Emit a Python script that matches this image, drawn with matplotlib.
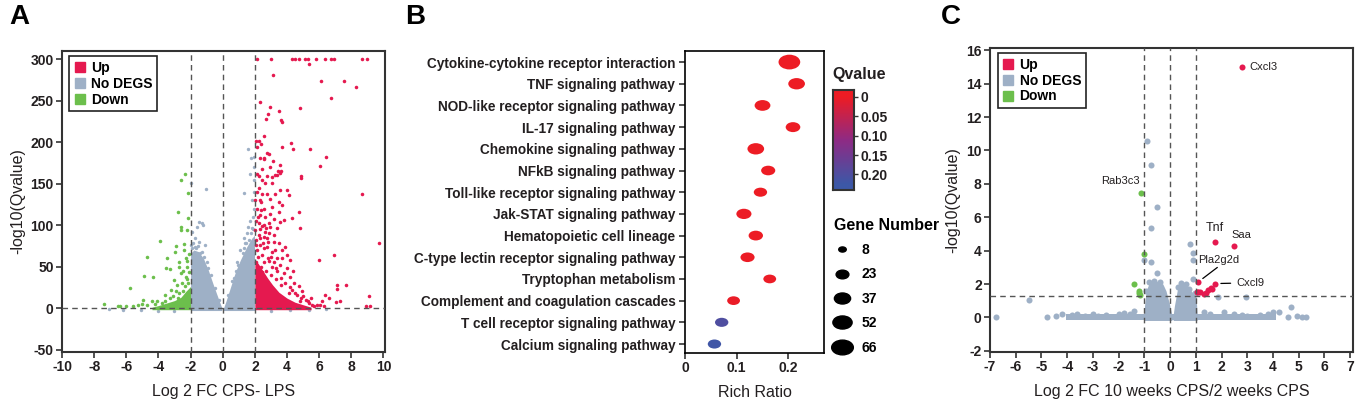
import matplotlib
matplotlib.use("Agg")
import matplotlib.pyplot as plt
import numpy as np
from matplotlib.path import Path
from matplotlib.colors import LinearSegmentedColormap, Normalize
from matplotlib.lines import Line2D
from matplotlib.font_manager import FontProperties

# ---------------- data ----------------
# Panel A: volcano CPS vs LPS  (x = log2 FC, y = -log10 Qvalue)
a_up = [(2.13, 300), (3.0, 300), (4.31, 300), (4.48, 300), (4.72, 300), (5.14, 300), (5.31, 300),
        (5.82, 300), (6.38, 300), (6.74, 300), (6.9, 300), (8.67, 300), (8.98, 300),
        (5.35, 294), (3.1, 281), (6.14, 274), (7.55, 274), (8.3, 267), (6.71, 253), (2.34, 249),
        (2.92, 242), (3.48, 238), (4.83, 241), (2.8, 234), (2.67, 228), (3.63, 227), (3.72, 224),
        (2.55, 208), (2.07, 202), (2.23, 201), (2.38, 198), (2.13, 194), (3.69, 194), (4.23, 199),
        (4.35, 192), (5.45, 192), (2.34, 181), (2.55, 181), (2.59, 180), (2.76, 187), (2.86, 186),
        (3.13, 177), (3.58, 173), (6.43, 182), (6.07, 171), (2.45, 168), (2.96, 170), (3.42, 165),
        (3.65, 165), (3.27, 161), (2.13, 162), (2.23, 159), (2.76, 159), (3.07, 158), (4.89, 159),
        (4.89, 157), (2.45, 155), (2.65, 151), (3.07, 151), (3.38, 160), (3.58, 163),
        (2.23, 145), (2.76, 138), (2.45, 138), (3.27, 138), (3.58, 142), (4.0, 142), (4.1, 136),
        (8.67, 137), (2.03, 130), (2.38, 128), (2.92, 131), (3.48, 128), (3.69, 124), (3.07, 122),
        (2.13, 120), (2.55, 119), (3.48, 116), (2.96, 114), (4.72, 116), (4.31, 108), (2.34, 112),
        (2.65, 110), (3.17, 107), (3.58, 104), (3.79, 106), (2.86, 103), (2.23, 102), (2.45, 99),
        (2.96, 98), (3.38, 96), (4.83, 96), (2.03, 94), (2.65, 92), (2.23, 88), (2.55, 86),
        (3.17, 80), (3.48, 78), (2.34, 76), (3.9, 74), (2.76, 74), (9.7, 78), (2.13, 70), (3.07, 68),
        (3.69, 70), (4.0, 64), (2.45, 64), (3.38, 60), (4.16, 58), (6.9, 64), (5.97, 58),
        (2.9, 57), (3.2, 55), (3.55, 52), (2.6, 56), (4.0, 48), (4.16, 38), (4.41, 30), (4.72, 26),
        (4.93, 20), (3.8, 42), (3.6, 36), (4.3, 22), (4.6, 16), (7.11, 28), (7.11, 23), (7.65, 28),
        (9.08, 15), (8.94, 2), (9.19, 2), (7.33, 8), (7.08, 7), (6.59, 12), (6.38, 16), (6.18, 8),
        (6.07, 4), (5.35, 6), (5.56, 4), (5.87, 4), (5.2, 10), (5.5, 12), (5.0, 14), (4.8, 8),
        (2.1, 55), (2.4, 50), (2.7, 45), (3.0, 40), (3.3, 35), (2.2, 62), (2.8, 60), (3.4, 45),
        (3.9, 30), (4.2, 25), (4.5, 18), (4.9, 12), (5.3, 8), (2.5, 78), (2.9, 90), (3.2, 88),
        (2.1, 105), (2.6, 100), (3.7, 60), (4.4, 45), (2.05, 82), (2.3, 95), (2.75, 85),
        (3.05, 50), (2.45, 44), (3.6, 28), (4.1, 18), (5.7, 2), (6.3, 3), (2.15, 140), (2.3, 130),
        (2.2, 110), (2.4, 118), (2.7, 96), (2.85, 80), (3.25, 70), (2.6, 72), (2.35, 84),
        (3.0, 62), (3.3, 48), (2.1, 76)]

a_down = [(-2.37, 162), (-2.6, 155), (-2.16, 139), (-2.78, 116), (-2.16, 108), (-2.58, 98),
          (-2.58, 94), (-2.22, 94), (-3.88, 81), (-4.71, 62), (-4.92, 39), (-4.34, 38), (-5.79, 24),
          (-7.37, 5), (-3.47, 60), (-3.51, 48), (-3.26, 47), (-2.89, 75), (-2.95, 67), (-2.39, 77),
          (-2.43, 70), (-2.74, 56), (-2.74, 50), (-3.05, 34), (-2.84, 28), (-2.53, 30), (-3.57, 16),
          (-4.96, 10), (-4.4, 8), (-4.09, 9), (-6.37, 3), (-6.54, 2), (-2.3, 60), (-2.2, 50),
          (-2.6, 42), (-2.3, 38), (-2.45, 45), (-2.9, 20), (-3.2, 22), (-2.7, 18), (-3.3, 12),
          (-3.8, 6), (-5.3, 4), (-5.6, 3), (-6.0, 2), (-5.0, 5), (-4.7, 4), (-2.2, 35), (-2.1, 65),
          (-2.25, 57), (-2.1, 44), (-2.35, 26), (-2.15, 30), (-2.5, 20), (-3.1, 14), (-3.6, 9),
          (-4.2, 5), (-2.8, 12)]

a_nodeg = [(1.55, 192), (1.78, 181), (1.72, 162), (-1.97, 151), (-1.02, 143), (1.3, 139),
           (1.95, 182), (-1.29, 102), (-1.6, 98), (-1.9, 92), (-1.45, 104), (-1.2, 100), (-1.75, 85),
           (-1.5, 80), (-1.95, 76), (-1.1, 76), (1.51, 90), (1.82, 96), (1.88, 110), (1.7, 105),
           (1.95, 120), (1.85, 130), (1.6, 98), (1.3, 84), (1.1, 70), (0.9, 55), (1.96, 140),
           (1.93, 155), (1.95, 170), (-7.1, -1), (-6.2, -2), (-5.1, -2), (-4.0, -3), (-3.0, -3),
           (3.0, -3), (4.2, -2), (5.4, -2), (6.4, -1), (-1.7, 74), (-1.3, 68), (0.7, 36), (1.4, 78),
           (-1.9, 72), (-1.65, 73), (-1.4, 66), (-1.0, 55), (-0.75, 40), (-0.45, 24), (-0.2, 10),
           (-1.85, 78), (-1.55, 75), (0.3, 16), (0.6, 33), (0.95, 52), (1.25, 66), (1.45, 78),
           (1.65, 82), (1.75, 90), (1.9, 95), (1.35, 73), (-1.15, 62), (-0.9, 48), (0.8, 45)]

# dense cores (upper edge of the cloud)
a_gray_left_x = [-2.0, -1.8, -1.5, -1.2, -0.9, -0.6, -0.3, -0.05]
a_gray_left_top = [66, 70, 68, 60, 46, 29, 13, 0]
a_gray_right_x = [0.05, 0.2, 0.5, 0.8, 1.1, 1.5, 1.8, 1.98]
a_gray_right_top = [0, 8, 26, 44, 58, 74, 84, 88]
a_red_core_x = [2.0, 2.2, 2.5, 2.8, 3.1, 3.5, 4.0, 4.5, 5.0, 5.5]
a_red_core_top = [58, 54, 45, 36, 28, 19, 12, 7, 4, 1]
a_green_core_x = [-4.4, -4.0, -3.5, -3.0, -2.6, -2.3, -2.0]
a_green_core_top = [1, 3, 6, 9, 13, 20, 26]

# Panel B: KEGG enrichment
pathways = ['Cytokine-cytokine receptor interaction', 'TNF signaling pathway',
            'NOD-like receptor signaling pathway', 'IL-17 signaling pathway',
            'Chemokine signaling pathway', 'NFkB signaling pathway',
            'Toll-like receptor signaling pathway', 'Jak-STAT signaling pathway',
            'Hematopoietic cell lineage', 'C-type lectin receptor signaling pathway',
            'Tryptophan metabolism', 'Complement and coagulation cascades',
            'T cell receptor signaling pathway', 'Calcium signaling pathway']
rich_ratio = [0.202, 0.216, 0.150, 0.209, 0.137, 0.161, 0.146, 0.114, 0.137, 0.121, 0.164,
              0.094, 0.071, 0.057]
gene_number = [66, 39, 35, 30, 39, 28, 25, 32, 29, 28, 23, 23, 25, 25]
qvalue = [0.0, 0.0, 0.0, 0.0, 0.0, 0.0, 0.0, 0.001, 0.0, 0.001, 0.002, 0.004, 0.20, 0.22]
gene_legend = [8, 23, 37, 52, 66]
q_ticks = [0, 0.05, 0.10, 0.15, 0.20]

# Panel C: volcano 10 weeks CPS vs 2 weeks CPS
c_up = [(2.81, 14.97), (1.74, 4.53), (2.49, 4.29), (1.1, 2.13), (1.76, 2.03), (1.03, 1.5),
        (1.16, 1.5), (1.33, 1.4), (1.46, 1.63), (1.59, 1.74), (1.63, 1.68), (1.4, 1.44), (1.08, 1.55)]
c_down = [(-1.12, 7.48), (-1.03, 3.79), (-1.42, 2.0), (-1.22, 1.6), (-1.16, 1.33), (-1.2, 1.48)]
c_nodeg = [(-6.77, 0.03), (-5.49, 1.02), (-4.78, 0.02), (-4.42, 0.08), (-4.19, 0.2),
           (-1.41, 0.38), (-1.03, 3.43), (-0.74, 3.33), (-0.5, 2.69), (0.79, 4.39), (0.9, 3.83),
           (0.9, 3.43), (0.9, 2.33), (-0.91, 10.56), (-0.76, 9.12), (-0.5, 6.62), (-0.74, 5.33),
           (1.88, 1.23), (2.97, 1.23), (4.71, 0.6), (4.24, 0.3), (4.59, 0.0), (4.95, 0.1),
           (5.14, 0.02), (5.3, 0.02), (-2.0, 0.2), (-3.6, 0.2), (3.5, 0.15), (4.0, 0.3),
           (1.3, 0.35), (2.1, 0.3), (-0.61, 2.2), (-0.8, 2.1), (-0.41, 2.1), (0.43, 2.05),
           (0.62, 2.0), (0.3, 1.8), (-0.93, 1.6), (0.75, 1.7), (0.95, 1.45),
           (-3.8, 0.15), (-3.0, 0.22), (-2.5, 0.12), (-1.8, 0.28), (-1.55, 0.18), (1.55, 0.2),
           (2.5, 0.2), (3.0, 0.1), (3.8, 0.18), (-2.8, 0.1), (2.8, 0.15), (-3.3, 0.1)]
c_band_x = [-4.05, 4.12]
c_gray_left_x = [-1.02, -0.93, -0.8, -0.61, -0.41, -0.28, -0.16, -0.03, 0.07]
c_gray_left_top = [0.3, 1.6, 2.1, 2.2, 2.1, 2.0, 1.6, 0.85, 0.15]
c_gray_right_x = [0.12, 0.17, 0.3, 0.43, 0.62, 0.75, 0.9, 1.01, 1.05]
c_gray_right_top = [0.15, 0.7, 1.8, 2.05, 2.0, 1.7, 1.45, 1.25, 0.3]

c_labels = [('Cxcl3', 2.81, 14.97), ('Rab3c3', -1.12, 7.48), ('Tnf', 1.74, 4.53),
            ('Saa', 2.49, 4.29), ('Pla2g2d', 1.1, 2.13), ('Cxcl9', 1.76, 2.03)]

# ---------------- style ----------------
RED = '#e5194f'
GRAY = '#9eb0c6'
GREEN = '#6cbf4c'
TXT = '#231f20'
W, H = 1358, 404
NARROW = ['Liberation Sans Narrow', 'DejaVu Sans Condensed', 'Liberation Sans']
SANS = ['Liberation Sans', 'DejaVu Sans']
plt.rcParams['font.family'] = SANS
plt.rcParams['axes.unicode_minus'] = False

fig = plt.figure(figsize=(W / 100, H / 100), dpi=100)


def px_axes(left, top, right, bottom):
    return fig.add_axes([left / W, 1 - bottom / H, (right - left) / W, (bottom - top) / H])


def tick_style(ax, size=10):
    for lab in ax.get_xticklabels() + ax.get_yticklabels():
        lab.set_fontfamily(NARROW)
        lab.set_fontweight('bold')
        lab.set_fontsize(size)
        lab.set_color(TXT)
    ax.tick_params(direction='out', length=4, width=1.2, color='#333333', pad=2)
    for s in ax.spines.values():
        s.set_linewidth(1.5)
        s.set_color('#333333')


def unzip(pts):
    return [p[0] for p in pts], [p[1] for p in pts]


def volcano_legend(ax):
    handles = [Line2D([], [], ls='', marker='s', ms=6.5, color=c) for c in (RED, GRAY, GREEN)]
    leg = ax.legend(handles, ['Up', 'No DEGS', 'Down'], loc='upper left',
                    bbox_to_anchor=(0.022, 0.982), borderaxespad=0, fancybox=False,
                    framealpha=1, edgecolor='#222222', handlelength=0.8, handletextpad=0.4,
                    labelspacing=0.12, borderpad=0.35,
                    prop=FontProperties(family=SANS, weight='bold', size=10))
    leg.get_frame().set_linewidth(1.2)


# ---------------- panel A ----------------
axA = px_axes(62, 51, 385, 352)
axA.fill_between(a_gray_left_x, -3, a_gray_left_top, color=GRAY, lw=0, zorder=1)
axA.fill_between(a_gray_right_x, -3, a_gray_right_top, color=GRAY, lw=0, zorder=1)
x, y = unzip(a_nodeg)
axA.scatter(x, y, s=6, color=GRAY, lw=0, zorder=2)
axA.fill_between(a_red_core_x, -2, a_red_core_top, color=RED, lw=0, zorder=2)
x, y = unzip(a_up)
axA.scatter(x, y, s=6.5, color=RED, lw=0, zorder=3)
axA.fill_between(a_green_core_x, -2, a_green_core_top, color=GREEN, lw=0, zorder=2)
x, y = unzip(a_down)
axA.scatter(x, y, s=6.5, color=GREEN, lw=0, zorder=3)
for v in (-2, 0, 2):
    axA.axvline(v, color='#555555', ls=(0, (4, 3)), lw=1, zorder=4)
axA.axhline(0, color='#555555', ls=(0, (4, 3)), lw=1, zorder=4)
axA.set_xlim(-10, 10.1)
axA.set_ylim(-53, 310)
axA.set_xticks(range(-10, 11, 2))
axA.set_yticks(range(-50, 301, 50))
tick_style(axA)
axA.set_xlabel('Log 2 FC CPS- LPS', fontsize=11.5, color=TXT, labelpad=7)
axA.set_ylabel('-log10(Qvalue)', fontsize=11.5, color=TXT, labelpad=4)
volcano_legend(axA)
fig.text(9 / W, 1 - 4 / H, 'A', fontsize=20, fontweight='bold', va='top', ha='left')

# ---------------- panel B ----------------
axB = px_axes(685, 51, 824, 352.7)
circ = Path.unit_circle()
ellipse = Path(circ.vertices * np.array([1.0, 0.68]), circ.codes)
cmap = LinearSegmentedColormap.from_list('q', ['#ed1c24', '#8e2b85', '#3d58a7'])
norm = Normalize(vmin=0, vmax=0.225)
ypos = np.arange(len(pathways))[::-1]
axB.scatter(rich_ratio, ypos, s=[3.7 * g for g in gene_number], c=qvalue, cmap=cmap, norm=norm,
            marker=ellipse, lw=0, zorder=3)
axB.set_yticks(ypos)
axB.set_yticklabels(pathways)
axB.set_ylim(-0.4, 13.51)
axB.set_xlim(0, 0.269)
axB.set_xticks([0, 0.1, 0.2])
axB.set_xticklabels(['0', '0.1', '0.2'])
tick_style(axB)
for lab in axB.get_yticklabels():
    lab.set_fontfamily(SANS)
    lab.set_fontsize(9.8)
axB.tick_params(axis='y', length=4, pad=3)
for s in axB.spines.values():
    s.set_linewidth(1.2)
    s.set_color('black')
axB.set_xlabel('Rich Ratio', fontsize=11.5, color=TXT, labelpad=7)
fig.text(405 / W, 1 - 4 / H, 'B', fontsize=20, fontweight='bold', va='top', ha='left')

# colour bar for Qvalue
fig.text(832 / W, 1 - 75 / H, 'Qvalue', fontsize=11.5, fontweight='bold', color=TXT,
         va='center', ha='left')
cax = px_axes(833, 90.3, 854, 190)
grad = np.linspace(-0.017, 0.24, 200).reshape(-1, 1)
cax.imshow(grad, cmap=cmap, norm=norm, aspect='auto', extent=(0, 1, 0.24, -0.017),
           origin='upper')
cax.set_ylim(0.24, -0.017)
cax.set_xticks([])
cax.yaxis.tick_right()
cax.set_yticks(q_ticks)
cax.set_yticklabels(['0', '0.05', '0.10', '0.15', '0.20'])
tick_style(cax, 10)
cax.tick_params(axis='y', length=3, width=1)

# gene number legend
g_handles = [Line2D([], [], ls='', marker=ellipse, ms=1.92 * np.sqrt(g), color='black')
             for g in gene_legend]
gleg = axB.legend(g_handles, [str(g) for g in gene_legend], title='Gene Number',
                  loc='upper left', bbox_to_anchor=(828 / W, 1 - 212 / H),
                  bbox_transform=fig.transFigure, frameon=False, borderaxespad=0,
                  handlelength=1.2, handletextpad=0.8, labelspacing=0.75, alignment='left',
                  prop=FontProperties(family=NARROW, weight='bold', size=10),
                  title_fontproperties=FontProperties(family=SANS, weight='bold', size=11.5))

# ---------------- panel C ----------------
axC = px_axes(990, 47.7, 1352.7, 351.7)
axC.fill_between(c_band_x, -0.18, 0.18, color=GRAY, lw=0, zorder=1)
axC.fill_between(c_gray_left_x, -0.18, c_gray_left_top, color=GRAY, lw=0, zorder=1)
axC.fill_between(c_gray_right_x, -0.18, c_gray_right_top, color=GRAY, lw=0, zorder=1)
x, y = unzip(c_nodeg)
axC.scatter(x, y, s=19, color=GRAY, lw=0, zorder=2)
x, y = unzip(c_up)
axC.scatter(x, y, s=19, color=RED, lw=0, zorder=3)
x, y = unzip(c_down)
axC.scatter(x, y, s=19, color=GREEN, lw=0, zorder=3)
for v in (-1, 0, 1):
    axC.axvline(v, color='#555555', ls=(0, (4, 3)), lw=1, zorder=4)
axC.axhline(1.3, color='#555555', ls=(0, (4, 3)), lw=1, zorder=4)
axC.set_xlim(-7, 7.1)
axC.set_ylim(-2.05, 16.15)
axC.set_xticks(range(-7, 8))
axC.set_yticks(range(-2, 17, 2))
tick_style(axC)
axC.set_xlabel('Log 2 FC 10 weeks CPS/2 weeks CPS', fontsize=11.5, color=TXT, labelpad=7)
axC.set_ylabel('-log10(Qvalue)', fontsize=11.5, color=TXT, labelpad=4)
volcano_legend(axC)
fig.text(941 / W, 1 - 4 / H, 'C', fontsize=20, fontweight='bold', va='top', ha='left')

# gene labels
lab_font = dict(fontsize=8, color=TXT)
name, gx, gy = c_labels[0]
axC.annotate(name, (gx, gy), xytext=(5, 0), textcoords='offset points', va='center', **lab_font)
name, gx, gy = c_labels[1]
axC.annotate(name, (gx, gy), xytext=(-1, 8), textcoords='offset points', va='center', ha='right',
             **lab_font)
name, gx, gy = c_labels[2]
axC.annotate(name, (gx, gy), xytext=(0, 10), textcoords='offset points', va='center', ha='center',
             fontsize=9, color=TXT)
name, gx, gy = c_labels[3]
axC.annotate(name, (gx, gy), xytext=(5, 8), textcoords='offset points', va='center', ha='center',
             **lab_font)
name, gx, gy = c_labels[4]
axC.annotate(name, (gx, gy), xytext=(0, 16), textcoords='offset points', va='center', ha='left',
             arrowprops=dict(arrowstyle='-', color='black', lw=0.9, shrinkA=0, shrinkB=4,
                             relpos=(0.55, 0)), **lab_font)
name, gx, gy = c_labels[5]
axC.annotate(name, (gx, gy), xytext=(15, 0.5), textcoords='offset points', va='center', ha='left',
             arrowprops=dict(arrowstyle='-', color='black', lw=0.9, shrinkA=2, shrinkB=4),
             **lab_font)

fig.savefig('out.png', dpi=100)
